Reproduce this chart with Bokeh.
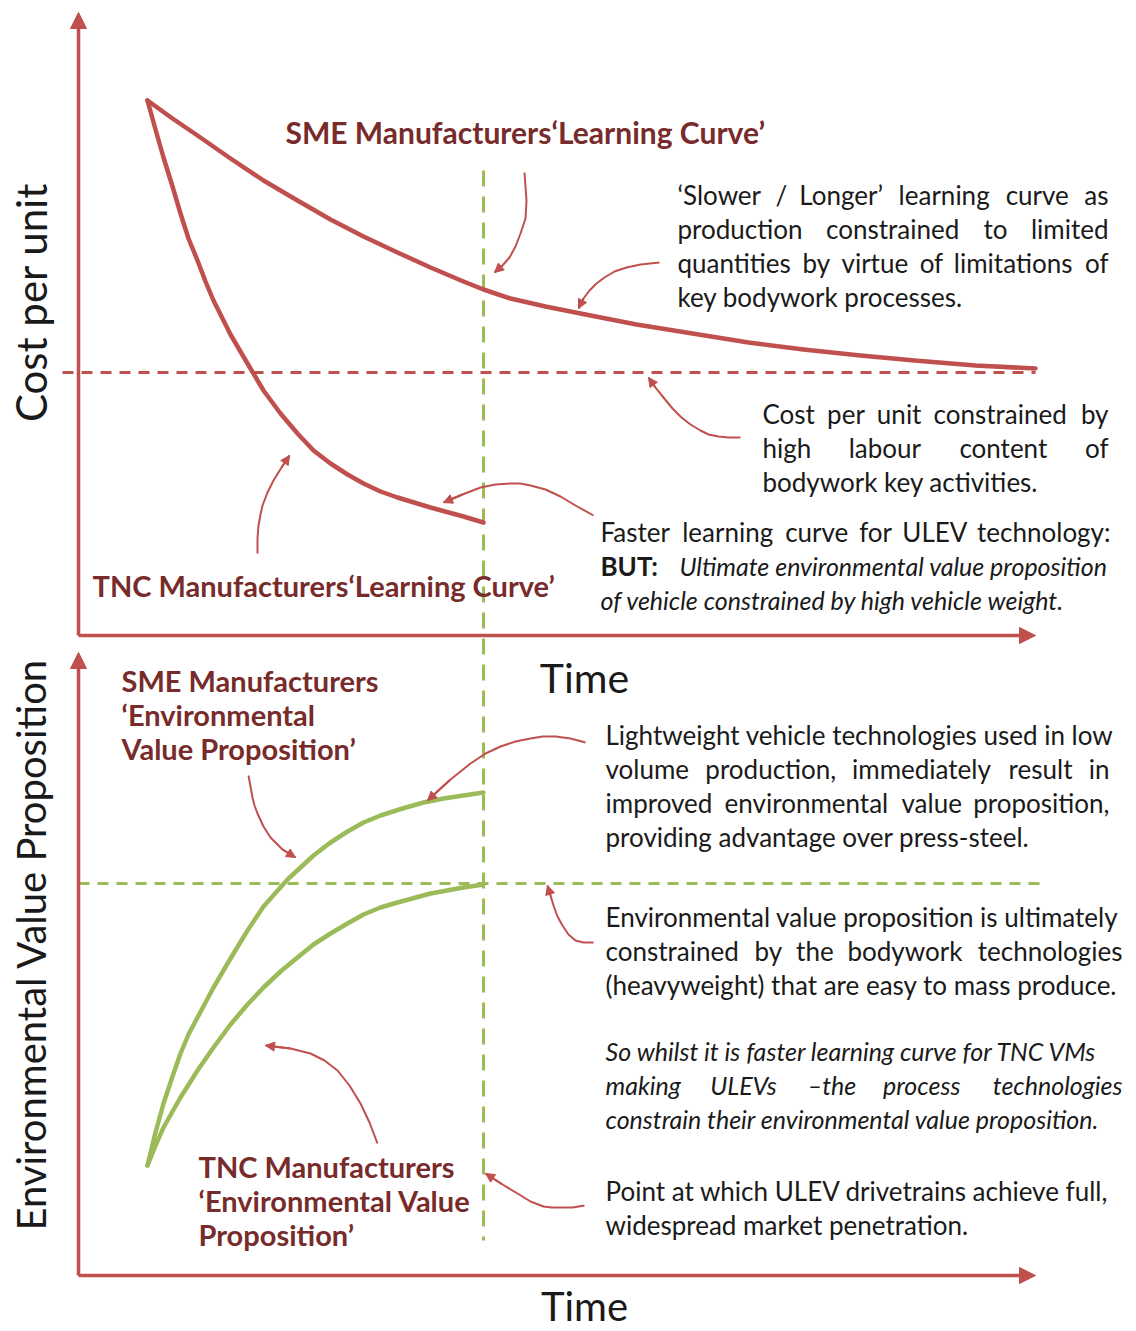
import math
from bokeh.plotting import figure
from bokeh.models import Range1d, Arrow, NormalHead
from bokeh.core.properties import value
from bokeh.embed import file_html
from bokeh.resources import INLINE

RED = "#c0504d"
DARK = "#782b2b"
GREEN = "#9bbb59"
INK = "#1a1a1a"
FONT = "Lato"

# ---- curves (picture coordinates: x right, y down) ----
sme_cost_x = [147, 172, 197, 230, 263, 297, 330, 363, 397, 430, 463, 483, 510, 545, 580,
              636, 692, 748, 803, 860, 914, 975, 1035]
sme_cost_y = [100, 118, 135, 158, 180, 200, 219, 236, 252, 267, 281, 289, 298, 306, 313,
              324, 333, 342, 349, 355, 360, 365, 368]
tnc_cost_x = [147, 155, 163, 172, 180, 188, 197, 205, 213, 222, 230, 247, 263, 280, 297,
              313, 330, 347, 363, 380, 397, 430, 463, 483]
tnc_cost_y = [100, 129, 157, 186, 213, 238, 260, 281, 300, 318, 334, 363, 390, 413, 433,
              450, 463, 474, 483, 491, 497, 507, 516, 522]
sme_env_x = [147, 155, 163, 172, 180, 188, 197, 213, 230, 247, 263, 287, 313, 330, 347,
             363, 380, 402, 423, 443, 463, 483]
sme_env_y = [1165, 1132, 1103, 1076, 1053, 1034, 1017, 987, 958, 930, 906, 879, 855, 842,
             831, 822, 815, 808, 802, 798, 795, 792]
tnc_env_x = [147, 155, 163, 172, 180, 197, 213, 230, 247, 263, 280, 297, 313, 330, 347,
             363, 380, 397, 430, 463, 483]
tnc_env_y = [1165, 1145, 1127, 1111, 1097, 1070, 1047, 1024, 1004, 987, 971, 957, 944, 933,
             923, 914, 907, 902, 893, 887, 884]

# reference levels
cost_floor = 372
env_ceiling = 883
market_time = 483

# annotation arrow paths
arrow_paths = [
    ([524, 526, 525, 520, 515, 509, 502, 494], [172, 200, 218, 233, 246, 257, 265, 272]),
    ([659, 640, 626, 614, 604, 596, 589, 583, 578], [262, 264, 267, 271, 277, 283, 290, 298, 308]),
    ([740, 728, 718, 708, 700, 690, 681, 672, 663, 655, 648],
     [437, 437, 436, 434, 430, 424, 417, 408, 397, 387, 377]),
    ([257, 257, 258, 260, 262, 267, 273, 281, 289], [553, 538, 525, 514, 505, 492, 480, 467, 455]),
    ([593, 575, 560, 545, 530, 520, 510, 495, 480, 462, 443],
     [515, 505, 496, 489, 485, 483, 483, 484, 487, 494, 502]),
    ([585, 570, 555, 542, 530, 515, 500, 485, 470, 450, 427],
     [742, 738, 736, 736, 738, 741, 746, 753, 763, 779, 800]),
    ([248, 250, 252, 254, 257, 263, 270, 282, 295], [775, 786, 797, 805, 813, 826, 837, 849, 857]),
    ([593, 583, 575, 568, 562, 557, 553, 550, 547], [942, 942, 940, 934, 925, 916, 905, 895, 885]),
    ([377, 369, 360, 349, 337, 324, 310, 290, 265], [1143, 1122, 1103, 1085, 1070, 1060, 1053, 1048, 1045]),
    ([584, 572, 560, 551, 543, 530, 517, 502, 485], [1205, 1207, 1207, 1207, 1206, 1201, 1193, 1184, 1173]),
]

W, H = 1136, 1331
p = figure(width=W, height=H, x_range=Range1d(0, W), y_range=Range1d(H, 0),
           x_axis_type=None, y_axis_type=None, output_backend="svg",
           toolbar_location=None, min_border=0)
p.grid.visible = False
p.outline_line_color = None
p.background_fill_color = "white"

# axes with arrow heads
for (xs, ys, xe, ye) in [(78, 635, 78, 12), (78, 635, 1035, 635),
                         (78, 1275, 78, 652), (78, 1275, 1035, 1275)]:
    p.add_layout(Arrow(end=NormalHead(size=16, fill_color=RED, line_color=RED),
                       x_start=xs, y_start=ys, x_end=xe, y_end=ye,
                       line_color=RED, line_width=3.5))

# dashed reference lines
p.line([62, 1035], [cost_floor, cost_floor], line_color=RED, line_width=3, line_dash="11 8")
p.line([78, 1045], [env_ceiling, env_ceiling], line_color=GREEN, line_width=3, line_dash="11 8")
p.line([market_time, market_time], [170, 1240], line_color=GREEN, line_width=3, line_dash="16 10")

# curves
for xs, ys, c in [(sme_cost_x, sme_cost_y, RED), (tnc_cost_x, tnc_cost_y, RED),
                  (sme_env_x, sme_env_y, GREEN), (tnc_env_x, tnc_env_y, GREEN)]:
    p.line(xs, ys, line_color=c, line_width=4.5, line_join="round", line_cap="round")

# annotation arrows
for xs, ys in arrow_paths:
    p.line(xs, ys, line_color=RED, line_width=2, line_join="round")
    p.add_layout(Arrow(end=NormalHead(size=9, fill_color=RED, line_color=RED),
                       x_start=xs[-2], y_start=ys[-2], x_end=xs[-1], y_end=ys[-1],
                       line_color=RED, line_width=2))


def txt(x, y, s, size, color=INK, style="normal", align="left", angle=0.0):
    p.text(x=[x], y=[y], text=[s], text_font=value(FONT), text_font_size=value(size),
           text_font_style=style, text_color=color, text_align=align,
           text_baseline="middle", angle=angle)


# approximate glyph advances (em) for justification of text lines
ADV = {' ': .193, 'a': .51, 'b': .56, 'c': .47, 'd': .56, 'e': .52, 'f': .32, 'g': .51,
       'h': .56, 'i': .24, 'j': .24, 'k': .5, 'l': .24, 'm': .84, 'n': .56, 'o': .56,
       'p': .56, 'q': .56, 'r': .37, 's': .42, 't': .35, 'u': .56, 'v': .5, 'w': .76,
       'x': .49, 'y': .5, 'z': .45, 'A': .67, 'B': .62, 'C': .68, 'D': .73, 'E': .56,
       'F': .54, 'G': .72, 'H': .74, 'I': .28, 'J': .38, 'K': .65, 'L': .5, 'M': .88,
       'N': .74, 'O': .79, 'P': .58, 'Q': .79, 'R': .61, 'S': .52, 'T': .57, 'U': .71,
       'V': .67, 'W': 1.0, 'X': .64, 'Y': .62, 'Z': .6, '.': .2, ',': .2, ':': .22,
       '\u2018': .2, '\u2019': .2, '/': .36, '(': .3, ')': .3, '-': .3, '\u2013': .5}


def est(s, px, style):
    k = 1.018 if style == "normal" else 0.951
    return px * k * sum(ADV.get(ch, .52) for ch in s)


def jline(x0, x1, y, s, px, style, justify):
    words = s.split(" ")
    n = len(words)
    size = f"{px}px"
    if not justify or n < 2:
        txt(x0, y, s, size, INK, style)
        return
    ws = [est(w, px, style) for w in words]
    natural = sum(ws) + (n - 1) * est(" ", px, style)
    extra = (x1 - x0) - natural
    if extra / (n - 1) < 4:
        txt(x0, y, s, size, INK, style)
        return
    gap = ((x1 - x0) - sum(ws)) / (n - 1)
    pos = x0
    for i, w in enumerate(words):
        if i == n - 1:
            txt(x1, y, w, size, INK, style, align="right")
        else:
            txt(pos, y, w, size, INK, style)
        pos += ws[i] + gap


# axis titles
txt(30, 302, "Cost per unit", "42px", align="center", angle=math.pi / 2)
txt(30, 944, "Environmental Value Proposition", "40px", align="center", angle=math.pi / 2)
txt(584, 677, "Time", "41px", align="center")
txt(584, 1305, "Time", "40px", align="center")

# dark red labels
txt(285, 131, "SME Manufacturers\u2018Learning Curve\u2019", "30px", DARK, "bold")
txt(92, 585, "TNC Manufacturers\u2018Learning Curve\u2019", "29px", DARK, "bold")
for i, s in enumerate(["SME Manufacturers", "\u2018Environmental", "Value Proposition\u2019"]):
    txt(121, 680 + 34 * i, s, "29px", DARK, "bold")
for i, s in enumerate(["TNC Manufacturers", "\u2018Environmental Value", "Proposition\u2019"]):
    txt(198, 1166 + 34 * i, s, "29px", DARK, "bold")

# explanatory blocks (left, right, first line y, lines, style, size, last line justified?)
blocks = [
    (677, 1108, 194, ["\u2018Slower / Longer\u2019 learning curve as",
                      "production constrained to limited",
                      "quantities by virtue of limitations of",
                      "key bodywork processes."], "normal", 26, False),
    (762, 1108, 413, ["Cost per unit constrained by",
                      "high labour content of",
                      "bodywork key activities."], "normal", 26, False),
    (600, 1110, 531, ["Faster learning curve for ULEV technology:"], "normal", 26, True),
    (600, 1110, 599, ["of vehicle constrained by high vehicle weight."], "italic", 25, False),
    (605, 1109, 734, ["Lightweight vehicle technologies used in low",
                      "volume production, immediately result in",
                      "improved environmental value proposition,",
                      "providing advantage over press-steel."], "normal", 26, False),
    (605, 1122, 916, ["Environmental value proposition is ultimately",
                      "constrained by the bodywork technologies",
                      "(heavyweight) that are easy to mass produce."], "normal", 26, False),
    (605, 1122, 1050, ["So whilst it is faster learning curve for TNC VMs",
                       "making ULEVs \u2013the process technologies",
                       "constrain their environmental value proposition."], "italic", 25, False),
    (605, 1110, 1190, ["Point at which ULEV drivetrains achieve full,",
                       "widespread market penetration."], "normal", 26, False),
]
for x0, x1, y0, lines, style, px, just_last in blocks:
    for i, s in enumerate(lines):
        last = i == len(lines) - 1
        jline(x0, x1, y0 + 34 * i, s, px, style, justify=(not last) or just_last)
txt(600, 565, "BUT:", "26px", INK, "bold")
txt(679, 565, "Ultimate environmental value proposition", "25px", INK, "italic")

open("out.html", "w").write(file_html(p, INLINE))
